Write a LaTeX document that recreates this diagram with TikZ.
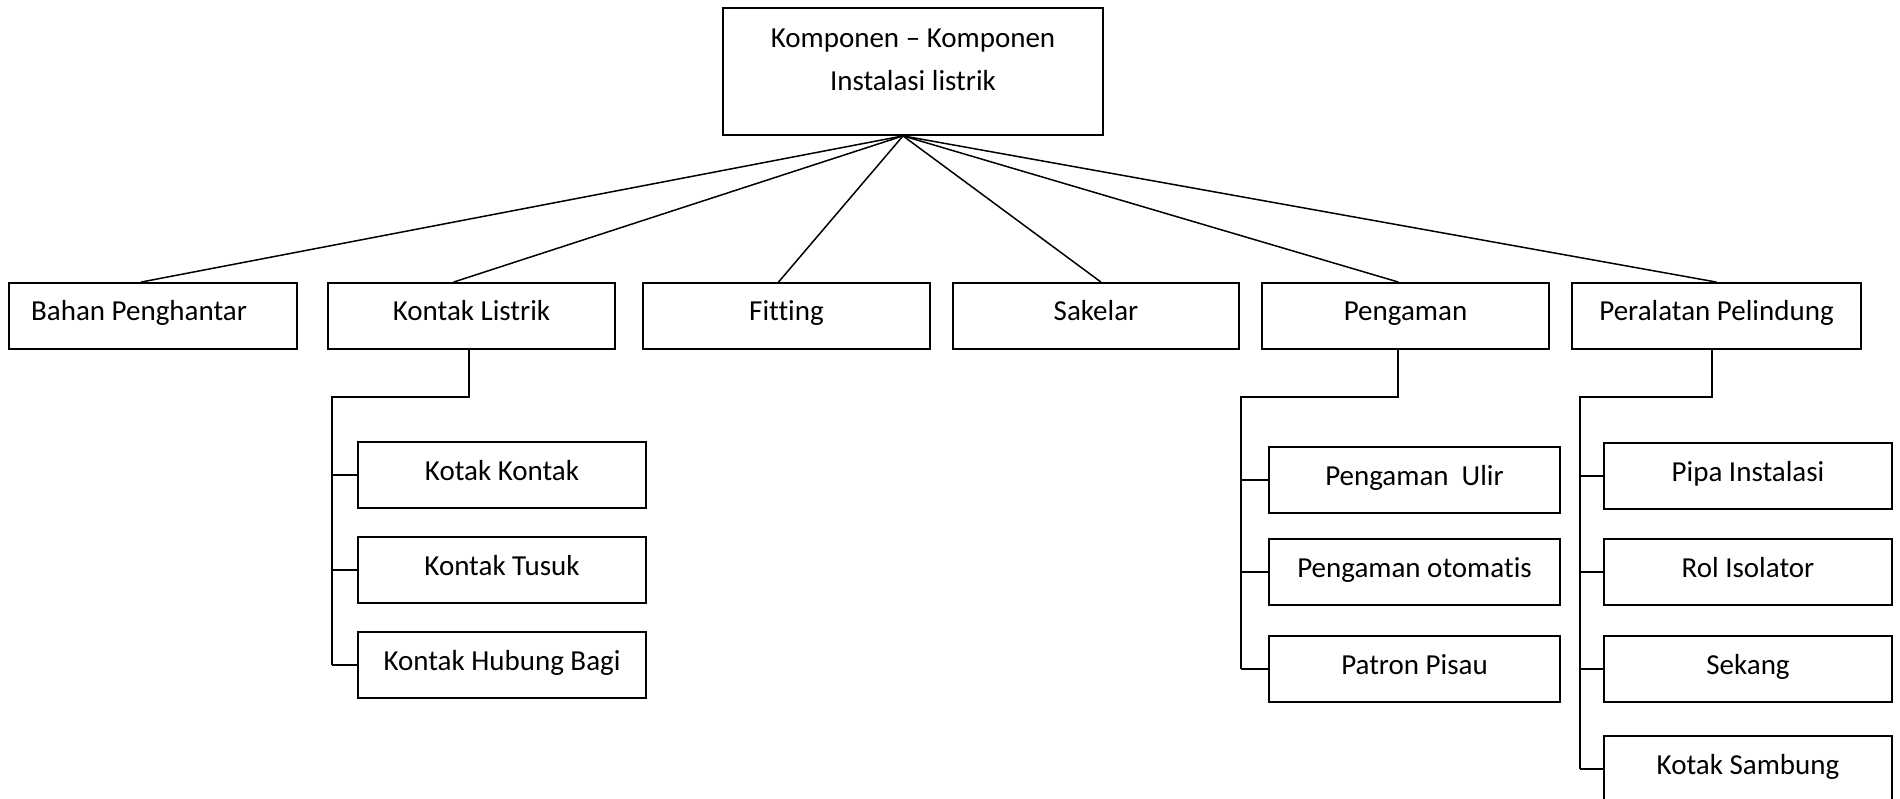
\documentclass[tikz,border=0pt]{standalone}
\usepackage{fontspec}
\setmainfont{Carlito}[Ligatures=NoCommon]
\usetikzlibrary{calc}
\begin{document}
\begin{tikzpicture}[x=1pt,y=-1pt,
  box/.style={draw,line width=1.8pt,minimum height=66pt,inner sep=0pt,text height=19pt,text depth=9pt,font=\fontsize{29}{35}\selectfont},
  conn/.style={line width=1.6pt},
  diag/.style={line width=1.5pt}]
\useasboundingbox (0,0) rectangle (1900,799);
% root
\node[box,minimum width=380pt,minimum height=127pt] (root) at (913,71.5) {};
\node[align=center,font=\fontsize{29}{43}\selectfont,inner sep=0pt] (roottext) at (913,60) {Komponen – Komponen\\Instalasi listrik};
% row 1
\node[box,minimum width=288pt] (bahan) at (153,316) {Bahan Penghantar\hspace*{28pt}};
\node[box,minimum width=287pt] (kontak) at (471.5,316) {Kontak Listrik};
\node[box,minimum width=287pt] (fitting) at (786.5,316) {Fitting};
\node[box,minimum width=286pt] (sakelar) at (1096,316) {Sakelar};
\node[box,minimum width=287pt] (pengaman) at (1405.5,316) {Pengaman};
\node[box,minimum width=289pt] (pelindung) at (1716.5,316) {Peralatan Pelindung};
% connectors from root
\coordinate (apex) at ([xshift=-10pt]root.south);
\draw[diag] (apex) -- ([xshift=-12pt]bahan.north);
\draw[diag] (apex) -- ([xshift=-18pt]kontak.north);
\draw[diag] (apex) -- ([xshift=-8pt]fitting.north);
\draw[diag] (apex) -- ([xshift=5pt]sakelar.north);
\draw[diag] (apex) -- ([xshift=-7pt]pengaman.north);
\draw[diag] (apex) -- (pelindung.north);
% Kontak Listrik children
\node[box,minimum width=288pt] (kk) at (502,475) {Kotak Kontak};
\node[box,minimum width=288pt] (kt) at (502,570) {Kontak Tusuk};
\node[box,minimum width=288pt] (khb) at (502,665) {Kontak Hubung Bagi};
\coordinate (kdown) at ([xshift=-2.5pt]kontak.south);
\coordinate (kbus) at (332,397);
\draw[conn] (kdown) -- (kdown |- kbus) -- (kbus) -- (kbus |- khb.west);
\foreach \n in {kk,kt,khb} \draw[conn] (kbus |- \n.west) -- (\n.west);
% Pengaman children
\node[box,minimum width=291pt] (pu) at (1414.5,480) {Pengaman~ Ulir};
\node[box,minimum width=291pt] (po) at (1414.5,572) {Pengaman otomatis};
\node[box,minimum width=291pt] (pp) at (1414.5,669) {Patron Pisau};
\coordinate (pdown) at ([xshift=-7.5pt]pengaman.south);
\coordinate (pbus) at (1241,397);
\draw[conn] (pdown) -- (pdown |- pbus) -- (pbus) -- (pbus |- pp.west);
\foreach \n in {pu,po,pp} \draw[conn] (pbus |- \n.west) -- (\n.west);
% Peralatan Pelindung children
\node[box,minimum width=288pt] (pi) at (1748,476) {Pipa Instalasi};
\node[box,minimum width=288pt] (ri) at (1748,572) {Rol Isolator};
\node[box,minimum width=288pt] (sk) at (1748,669) {Sekang};
\node[box,minimum width=288pt] (ks) at (1748,769) {Kotak Sambung};
\coordinate (ldown) at ([xshift=-4.5pt]pelindung.south);
\coordinate (lbus) at (1580,397);
\draw[conn] (ldown) -- (ldown |- lbus) -- (lbus) -- (lbus |- ks.west);
\foreach \n in {pi,ri,sk,ks} \draw[conn] (lbus |- \n.west) -- (\n.west);
\end{tikzpicture}
\end{document}
